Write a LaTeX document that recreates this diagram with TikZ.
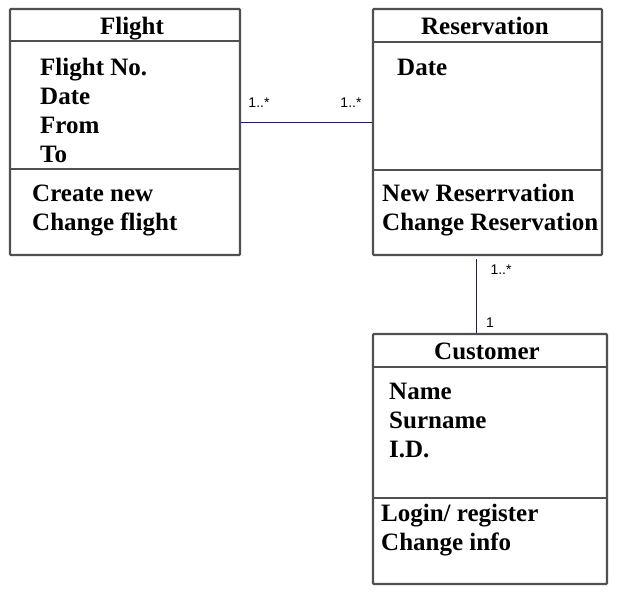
\documentclass[tikz,border=0pt]{standalone}
\usepackage{fontspec}
\setmainfont{Liberation Serif}
\setsansfont{Liberation Sans}
\definecolor{boxgray}{RGB}{80,80,80}
\definecolor{linkblue}{RGB}{30,30,90}
\tikzset{
  classbox/.style={rectangle,draw=boxgray,line width=2.2pt,rounded corners=1pt,inner sep=0pt},
  sepline/.style={draw=boxgray,line width=2.2pt},
  head/.style={inner sep=0pt,anchor=base,font=\bfseries\fontsize{25}{29}\selectfont},
  txt/.style={inner sep=0pt,anchor=west,align=left,font=\bfseries\fontsize{25}{29}\selectfont},
  mult/.style={inner sep=0pt,font=\sffamily\fontsize{14}{16}\selectfont},
  link/.style={draw=linkblue,line width=0.8pt}
}
\begin{document}
\begin{tikzpicture}[x=1pt,y=-1pt]
  \useasboundingbox (0,0) rectangle (642,595);
  %Flight
  \node[classbox,minimum width=230pt,minimum height=246pt] (flight) at (125,132) {};
  \draw[sepline] (flight.west |- 0,41) -- (flight.east |- 0,41);
  \draw[sepline] (flight.west |- 0,169) -- (flight.east |- 0,169);
  \node[head] (flighthead) at (132,34) {Flight};
  \node[txt] (flightattr) at (40,110) {Flight No.\\Date\\From\\To};
  \node[txt] (flightops) at (32,210.5) {Create new\\Change flight};
  %Reservation
  \node[classbox,minimum width=229pt,minimum height=246pt] (res) at (487.5,132) {};
  \draw[sepline] (res.west |- 0,42) -- (res.east |- 0,42);
  \draw[sepline] (res.west |- 0,170) -- (res.east |- 0,170);
  \node[head] (reshead) at (485,34) {Reservation};
  \node[txt] (resattr) at (397,67) {Date};
  \node[txt] (resops) at (382,210.5) {New Reserrvation\\Change Reservation};
  %Customer
  \node[classbox,minimum width=234pt,minimum height=250pt] (cust) at (490,459) {};
  \draw[sepline] (cust.west |- 0,367) -- (cust.east |- 0,367);
  \draw[sepline] (cust.west |- 0,498) -- (cust.east |- 0,498);
  \node[head] (custhead) at (487,359) {Customer};
  \node[txt] (custattr) at (389,420) {Name\\Surname\\I.D.};
  \node[txt] (custops) at (381,530) {Login/ register\\Change info};
  %links
  \draw[link] ([yshift=10pt]flight.east) -- ([yshift=10pt]res.west);
  \node[mult] (m1) at (259,103) {1..*};
  \node[mult] (m2) at (351,103) {1..*};
  \draw[link] ([xshift=-14pt]cust.north) -- ([xshift=-11.5pt,yshift=-3pt]res.south);
  \node[mult] (m3) at (501,270) {1..*};
  \node[mult] (m4) at (490,323) {1};
\end{tikzpicture}
\end{document}
